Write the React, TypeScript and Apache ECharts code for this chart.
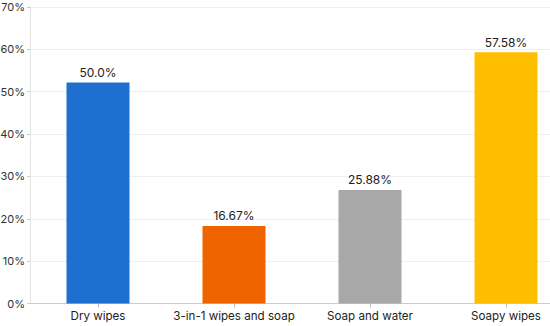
import React, { useEffect, useRef } from "react";
import * as echarts from "echarts";

const categories = ["Dry wipes", "3-in-1 wipes and soap", "Soap and water", "Soapy wipes"];
// bar heights as drawn in the reference (percent)
const barValues = [52.2, 18.3, 26.8, 59.3];
// value labels printed above the bars
const valueLabels = ["50.0%", "16.67%", "25.88%", "57.58%"];
const barColors = ["#1F6FD1", "#F06400", "#A8A8A8", "#FFBF00"];
const yTicks = { min: 0, max: 70, interval: 10 };

export default function App() {
  const ref = useRef<HTMLDivElement>(null);
  useEffect(() => {
    if (!ref.current) return;
    const chart = echarts.init(ref.current, undefined, { renderer: "svg" });
    const font = "Inter, 'Noto Sans', sans-serif";
    chart.setOption({
      animation: false,
      grid: { left: 30, width: 544, top: 7, height: 296.5, containLabel: false, outerBoundsMode: "none" },
      xAxis: {
        type: "category",
        data: categories,
        axisLine: { lineStyle: { color: "#cccccc" } },
        axisTick: { show: true, alignWithLabel: true, length: 4, lineStyle: { color: "#bbbbbb" } },
        axisLabel: { interval: 0, color: "#222", fontFamily: font, fontSize: 11.6, margin: 6 },
      },
      yAxis: {
        type: "value",
        min: yTicks.min,
        max: yTicks.max,
        interval: yTicks.interval,
        axisLine: { show: true, lineStyle: { color: "#e3e3e3" } },
        axisTick: { show: true, length: 3, lineStyle: { color: "#cccccc" } },
        splitLine: { lineStyle: { color: "#efefef" } },
        axisLabel: { formatter: "{value}%", color: "#333", fontFamily: font, fontSize: 11, margin: 5 },
      },
      series: [
        {
          type: "bar",
          barWidth: 63,
          data: barValues.map((v, i) => ({ value: v, itemStyle: { color: barColors[i] } })),
          label: {
            show: true,
            position: "top",
            distance: 4,
            color: "#222",
            fontFamily: font,
            fontSize: 12,
            formatter: (p: any) => valueLabels[p.dataIndex],
          },
        },
      ],
    });
    return () => chart.dispose();
  }, []);
  return <div ref={ref} style={{ width: 550, height: 326, position: "absolute", left: 0, top: 0 }} />;
}
